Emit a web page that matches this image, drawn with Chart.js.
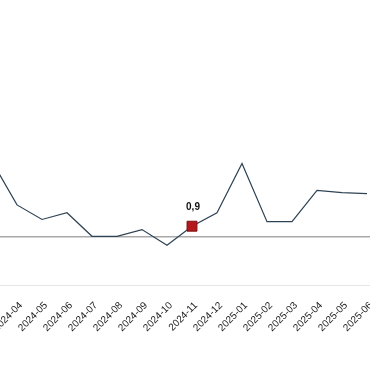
<!DOCTYPE html>
<html>
<head>
<meta charset="utf-8">
<script src="https://cdn.jsdelivr.net/npm/chart.js@4/dist/chart.umd.min.js"></script>
<style>
  html, body { margin: 0; padding: 0; background: #fff; overflow: hidden; }
  #wrap { position: relative; width: 370px; height: 380px; }
</style>
</head>
<body>
<div id="wrap"><canvas id="trendChart"></canvas></div>
<script>
const months = ["2024-03", "2024-04", "2024-05", "2024-06", "2024-07", "2024-08", "2024-09", "2024-10",
  "2024-11", "2024-12", "2025-01", "2025-02", "2025-03", "2025-04", "2025-05", "2025-06"];
const values = [6.7, 2.8, 1.5, 2.1, 0.0, 0.0, 0.6, -0.8, 0.9, 2.1, 6.5, 1.3, 1.3, 4.1, 3.9, 3.8];
const markedMonth = "2024-11";

const markIndex = months.indexOf(markedMonth);
const points = values.map((v, i) => ({ x: i, y: v }));

// draws the "0,9" value above the highlighted point
const pointLabel = {
  id: "pointLabel",
  afterDatasetsDraw(chart) {
    const el = chart.getDatasetMeta(0).data[markIndex];
    const ctx = chart.ctx;
    ctx.save();
    ctx.font = "bold 10px Arial, 'Liberation Sans', sans-serif";
    ctx.fillStyle = "#111";
    ctx.textAlign = "center";
    ctx.textBaseline = "bottom";
    ctx.fillText(values[markIndex].toFixed(1).replace(".", ","), el.x + 1, el.y - 14);
    ctx.restore();
  }
};

const ctx = document.getElementById("trendChart").getContext("2d");
new Chart(ctx, {
  type: "line",
  data: {
    datasets: [{
      data: points,
      borderColor: "#2e4354",
      borderWidth: 1.2,
      tension: 0,
      pointStyle: "rect",
      pointRadius: c => c.dataIndex === markIndex ? 7 : 0,
      pointHoverRadius: c => c.dataIndex === markIndex ? 7 : 0,
      pointBackgroundColor: "#b3191d",
      pointBorderColor: "#7d1012",
      pointBorderWidth: 1
    }]
  },
  options: {
    responsive: true,
    maintainAspectRatio: false,
    animation: false,
    layout: { padding: { top: 10, bottom: 40, left: 0, right: 0 } },
    plugins: {
      legend: { display: false },
      tooltip: { enabled: false }
    },
    scales: {
      x: {
        type: "linear",
        min: 0.32,
        max: 15.12,
        grid: { display: false },
        border: { display: true, color: "#e4e4e4", width: 1 },
        ticks: {
          stepSize: 1,
          includeBounds: false,
          autoSkip: false,
          maxRotation: 45,
          minRotation: 45,
          padding: 6,
          labelOffset: 4,
          color: "#1a1a1a",
          font: { family: "Arial, 'Liberation Sans', sans-serif", size: 10 },
          callback: v => Number.isInteger(v) ? months[v] : ""
        },
        afterFit(scale) {
          scale.paddingLeft = 0;
          scale.paddingRight = 0;
        }
      },
      y: {
        min: -4.4,
        max: 20.2,
        border: { display: false },
        ticks: { display: false },
        grid: {
          drawTicks: false,
          lineWidth: c => c.tick && c.tick.value === 0 ? 1.5 : 0,
          color: c => c.tick && c.tick.value === 0 ? "#a9a9a9" : "rgba(0,0,0,0)"
        }
      }
    }
  },
  plugins: [pointLabel]
});
</script>
</body>
</html>
